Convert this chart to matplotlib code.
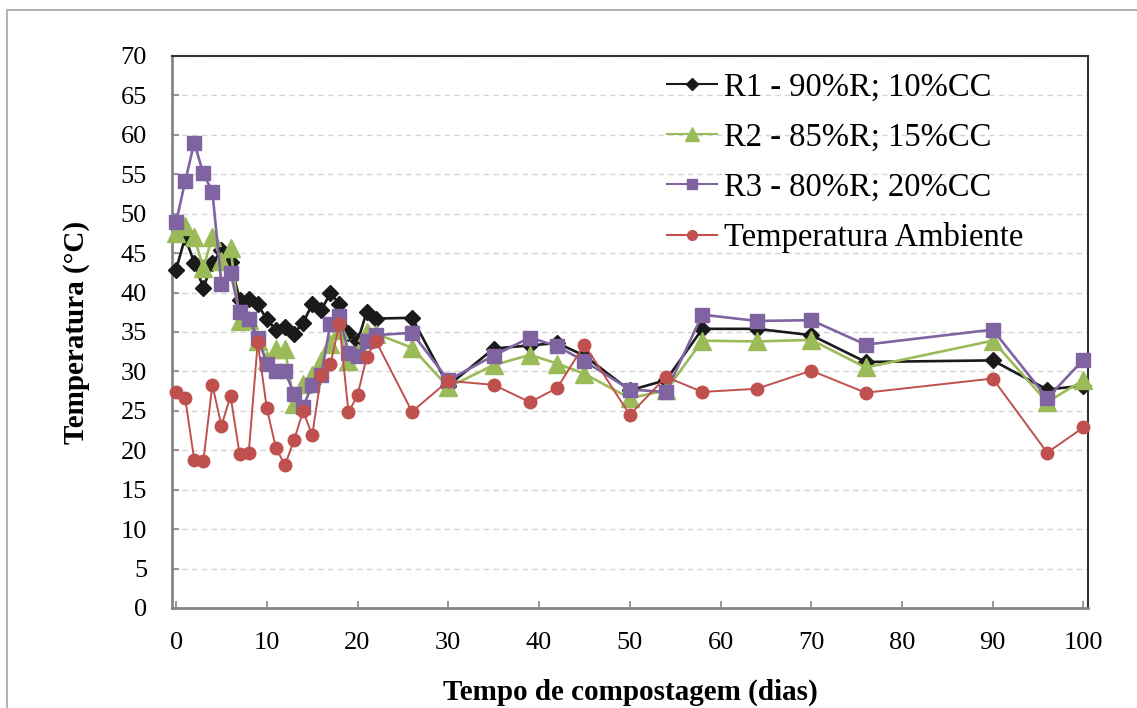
import matplotlib
matplotlib.use("Agg")
import matplotlib.pyplot as plt
from matplotlib.lines import Line2D
from matplotlib.patches import Rectangle

plt.rcParams["font.family"] = ["Liberation Serif", "DejaVu Serif"]

# composting days
days = [0, 1, 2, 3, 4, 5, 6, 7, 8, 9, 10, 11, 12, 13, 14, 15, 16, 17, 18, 19,
        20, 21, 22, 26, 30, 35, 39, 42, 45, 50, 54, 58, 64, 70, 76, 90, 96, 100]

r1 = [42.9, 47.0, 43.8, 40.6, 43.7, 45.4, 43.9, 39.1, 39.2, 38.5, 36.6, 35.3,
      35.6, 34.8, 36.2, 38.5, 37.8, 39.9, 38.6, 34.9, 33.8, 37.5, 36.7, 36.8,
      28.2, 32.9, 33.3, 33.6, 32.0, 27.6, 28.9, 35.4, 35.4, 34.6, 31.2, 31.4,
      27.7, 28.2]
r2 = [47.5, 48.4, 47.1, 43.1, 47.1, 44.0, 45.6, 36.4, 36.5, 33.8, 31.5, 32.8,
      32.8, 25.9, 28.4, 29.5, 31.3, 33.5, 35.2, 31.3, 32.3, 35.0, 34.8, 33.0,
      28.0, 30.8, 32.1, 31.0, 29.7, 26.6, 27.6, 33.9, 33.8, 34.0, 30.5, 33.9,
      26.1, 28.9]
r3 = [48.9, 54.1, 59.0, 55.1, 52.8, 41.1, 42.5, 37.5, 36.7, 34.3, 31.0, 30.1,
      30.0, 27.2, 25.5, 28.3, 29.6, 36.0, 37.0, 32.4, 32.0, 33.8, 34.6, 34.9,
      28.9, 32.0, 34.3, 33.2, 31.3, 27.7, 27.4, 37.2, 36.4, 36.5, 33.4, 35.3,
      26.6, 31.5]
amb = [27.4, 26.6, 18.8, 18.6, 28.3, 23.1, 26.9, 19.5, 19.6, 33.7, 25.3, 20.3,
       18.1, 21.3, 25.0, 21.9, 29.6, 30.9, 36.0, 24.8, 27.0, 31.8, 33.9, 24.9,
       28.8, 28.3, 26.1, 27.9, 33.4, 24.5, 29.3, 27.4, 27.8, 30.1, 27.3, 29.1,
       19.7, 22.9]

labels = ["R1 - 90%R; 10%CC", "R2 - 85%R; 15%CC", "R3 - 80%R; 20%CC",
          "Temperatura Ambiente"]
colors = ["#1a1a1a", "#9bbb59", "#8064a2", "#c0504d"]

fig = plt.figure(figsize=(11.37, 7.08), dpi=100)
# outer chart border
fig.patches.append(Rectangle((7 / 1137, -0.05), 1.2, 1 - 10 / 708 + 0.05,
                             transform=fig.transFigure, fill=False,
                             edgecolor="#a6a6a6", linewidth=1.2))

ax = fig.add_axes([172 / 1137, 1 - 608 / 708, 916 / 1137, 552 / 708])

ax.plot(days, r1, color=colors[0], lw=1.9, marker="D", ms=8.5, zorder=3,
        clip_on=False)
ax.plot(days, r2, color=colors[1], lw=1.9, marker="^", ms=12.5, zorder=4,
        clip_on=False)
ax.plot(days, r3, color=colors[2], lw=1.9, marker="s", ms=9.5, zorder=5,
        clip_on=False)
ax.plot(days, amb, color=colors[3], lw=1.4, marker="o", ms=9, zorder=6,
        clip_on=False)

ax.set_xlim(-0.45, 100.5)
ax.set_ylim(0, 70)
ax.set_xticks(range(0, 101, 10))
ax.set_yticks(range(0, 71, 5))
ax.tick_params(axis="both", direction="in", length=5, width=1.2,
               color="#868686", labelsize=19)
ax.tick_params(axis="y", pad=18)
ax.tick_params(axis="x", pad=17)
ax.yaxis.grid(True, linestyle=(0, (4, 3)), color="#d4d4d4", lw=1)
ax.set_axisbelow(True)

for side in ("left", "bottom"):
    ax.spines[side].set_color("#868686")
    ax.spines[side].set_linewidth(2)
for side in ("top", "right"):
    ax.spines[side].set_color("#333333")
    ax.spines[side].set_linewidth(1.5)

ax.set_xlabel("Tempo de compostagem (dias)", fontsize=21, fontweight="bold",
              labelpad=18)
ax.set_ylabel("Temperatura (°C)", fontsize=21, fontweight="bold", labelpad=22)

handles = [
    Line2D([], [], color=colors[0], lw=1.5, marker="D", ms=6),
    Line2D([], [], color=colors[1], lw=1.5, marker="^", ms=10),
    Line2D([], [], color=colors[2], lw=1.5, marker="s", ms=7),
    Line2D([], [], color=colors[3], lw=1.5, marker="o", ms=7),
]
ax.legend(handles, labels, loc="upper left", bbox_to_anchor=(0.515, 1.012),
          frameon=False, fontsize=23.5, handlelength=1.55, handletextpad=0.2,
          labelspacing=0.6, borderaxespad=0.3)

fig.savefig("out.png", dpi=100)
